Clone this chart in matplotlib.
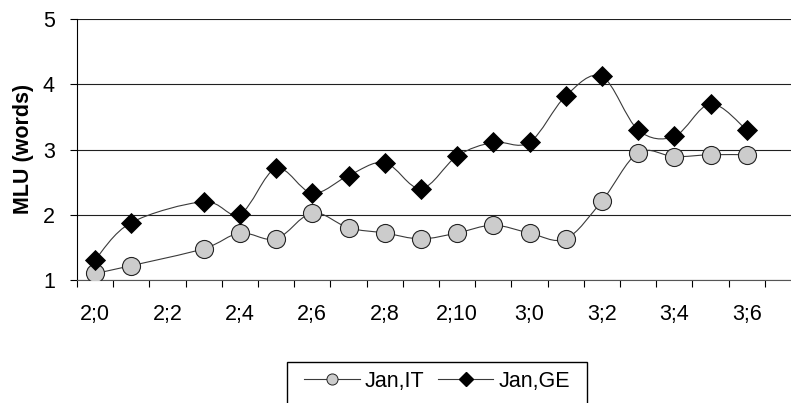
import matplotlib
matplotlib.use("Agg")
import matplotlib.pyplot as plt
from matplotlib.path import Path
from matplotlib.patches import PathPatch, Rectangle
from matplotlib.lines import Line2D
import numpy as np

plt.rcParams['font.family'] = ['Liberation Sans', 'DejaVu Sans']

# ---- data ----
age_months = [24, 25, 27, 28, 29, 30, 31, 32, 33, 34, 35, 36, 37, 38, 39, 40, 41, 42]
mlu_it = [1.1, 1.22, 1.48, 1.72, 1.63, 2.03, 1.8, 1.72, 1.63, 1.72, 1.84, 1.72, 1.63, 2.21, 2.95, 2.89, 2.92, 2.92]
mlu_ge = [1.31, 1.88, 2.2, 2.01, 2.71, 2.33, 2.6, 2.8, 2.4, 2.9, 3.11, 3.11, 3.82, 4.12, 3.3, 3.2, 3.7, 3.3]
tick_months = [24, 26, 28, 30, 32, 34, 36, 38, 40, 42]
tick_labels = ["2;0", "2;2", "2;4", "2;6", "2;8", "2;10", "3;0", "3;2", "3;4", "3;6"]
series_names = ["Jan,IT", "Jan,GE"]
first_month, last_month = 24, 43
yticks = [1, 2, 3, 4, 5]

FS = 15.5
W, H = 791, 403
fig = plt.figure(figsize=(W / 100, H / 100), dpi=100)
ax = fig.add_axes([77 / W, 123 / H, 724 / W, 261 / H])


def smooth_path(xs, ys):
    p = np.column_stack([xs, ys]).astype(float)
    n = len(p)
    verts = [p[0]]
    codes = [Path.MOVETO]
    for i in range(n - 1):
        p0 = p[i - 1] if i > 0 else p[i]
        p1 = p[i]
        p2 = p[i + 1]
        p3 = p[i + 2] if i + 2 < n else p[i + 1]
        c1 = p1 + (p2 - p0) / 6.0
        c2 = p2 - (p3 - p1) / 6.0
        verts += [c1, c2, p2]
        codes += [Path.CURVE4] * 3
    return Path(verts, codes)


line_col = '#3a3a3a'
for ys in (mlu_it, mlu_ge):
    ax.add_patch(PathPatch(smooth_path(age_months, ys), facecolor='none',
                           edgecolor=line_col, lw=0.8, zorder=3))

ax.plot(age_months, mlu_it, ls='none', marker='o', ms=13, mfc='#cccccc',
        mec='#222222', mew=0.8, zorder=4)
ax.plot(age_months, mlu_ge, ls='none', marker='D', ms=10, mfc='black',
        mec='black', mew=0.6, zorder=5)

ax.set_xlim(first_month - 0.5, last_month + 0.5)
ax.set_ylim(1, 5)
ax.set_yticks(yticks)
ax.tick_params(axis='y', length=5, width=0.8, pad=11, labelsize=FS, direction='out')
ax.set_xticks(tick_months)
ax.set_xticklabels(tick_labels)
ax.set_xticks(np.arange(first_month - 0.5, last_month + 0.6, 1), minor=True)
ax.tick_params(axis='x', which='major', length=0, pad=17, labelsize=FS)
ax.tick_params(axis='x', which='minor', length=5, width=0.8, direction='out')

ax.yaxis.grid(True, color='#202020', lw=0.8)
ax.set_axisbelow(True)
for s in ('top', 'right'):
    ax.spines[s].set_visible(False)
ax.spines['left'].set_linewidth(0.8)
ax.spines['bottom'].set_linewidth(0.8)
ax.spines['bottom'].set_color('#555555')

fig.text(23 / W, 1 - 149 / H, "MLU (words)", rotation=90, ha='center', va='center',
         fontsize=FS, fontweight='bold')

handles = [
    Line2D([], [], color=line_col, lw=0.8, marker='o', ms=8, mfc='#cccccc', mec='#222222', mew=0.7),
    Line2D([], [], color=line_col, lw=0.8, marker='D', ms=7, mfc='black', mec='black'),
]
fig.legend(handles, series_names, loc='center', bbox_to_anchor=(437 / W, 1 - 381 / H),
           ncol=2, frameon=False, fontsize=FS, handlelength=2.6, handletextpad=0.25,
           columnspacing=0.6, borderpad=0)
fig.add_artist(Rectangle((287 / W, -10 / H), 300 / W, (403 - 362 + 10) / H,
                         transform=fig.transFigure, facecolor='none', edgecolor='black',
                         lw=1.0, clip_on=False))

fig.savefig("out.png", dpi=100)
